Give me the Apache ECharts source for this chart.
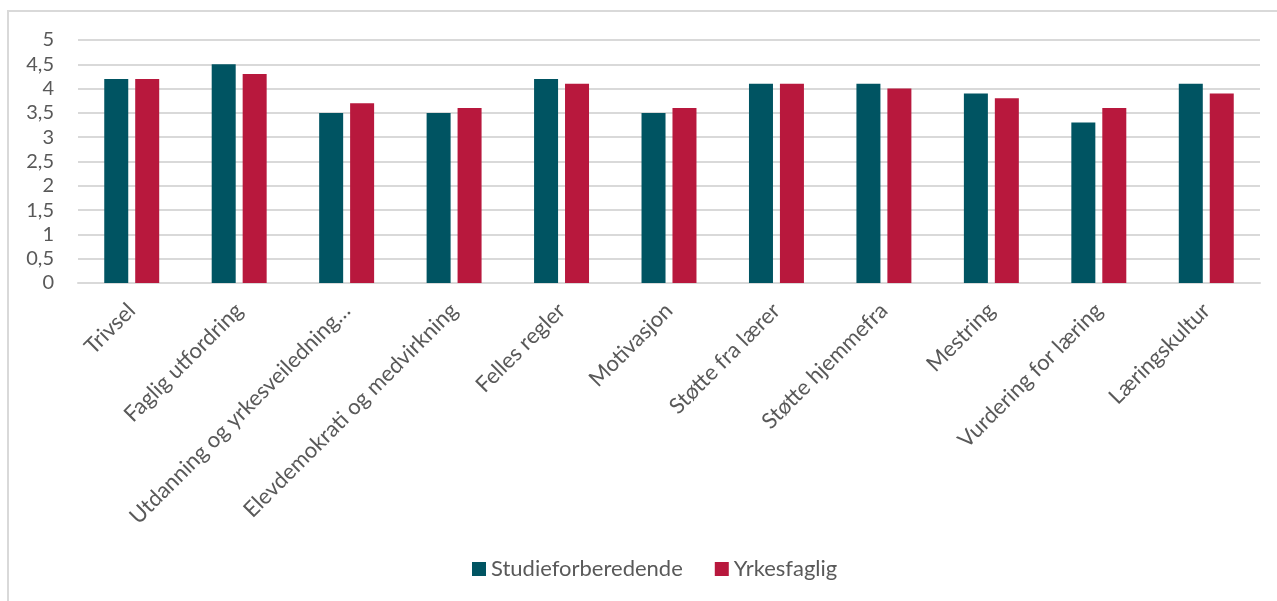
<!DOCTYPE html>
<html><head><meta charset="utf-8">
<script src="https://cdn.jsdelivr.net/npm/echarts@6/dist/echarts.min.js"></script>
<style>html,body{margin:0;padding:0;background:#fff}#frame{position:absolute;left:7px;top:10px;width:1290px;height:600px;border:2px solid #d9d9d9;box-sizing:border-box}#c{width:1277px;height:601px;position:absolute;left:0;top:0}</style>
</head><body>
<div id="frame"></div>
<div id="c"></div>
<script>
const categories = ["Trivsel","Faglig utfordring","Utdanning og yrkesveiledning…","Elevdemokrati og medvirkning","Felles regler","Motivasjon","Støtte fra lærer","Støtte hjemmefra","Mestring","Vurdering for læring","Læringskultur"];
const studieforberedende = [4.2,4.5,3.5,3.5,4.2,3.5,4.1,4.1,3.9,3.3,4.1];
const yrkesfaglig = [4.2,4.3,3.7,3.6,4.1,3.6,4.1,4.0,3.8,3.6,3.9];
const seriesNames = ["Studieforberedende","Yrkesfaglig"];
const yTicks = ["0","0,5","1","1,5","2","2,5","3","3,5","4","4,5","5"];

const font = "Lato, sans-serif";
const chart = echarts.init(document.getElementById('c'));
chart.setOption({
  animation:false,
  grid:{left:78,right:17,top:40,bottom:318,containLabel:false},
  legend:{top:553,left:467,itemWidth:14,itemHeight:14,itemGap:32,icon:'rect',
    textStyle:{color:'#595959',fontSize:22,fontFamily:font},data:seriesNames},
  xAxis:{type:'category',data:categories,
    axisLine:{lineStyle:{color:'#d9d9d9',width:2}},axisTick:{show:false},
    axisLabel:{rotate:45,interval:0,color:'#595959',fontSize:22,fontFamily:font,margin:24}},
  yAxis:{type:'value',min:0,max:5,interval:0.5,
    axisLine:{show:false},axisTick:{show:false},
    splitLine:{lineStyle:{color:'#d9d9d9',width:2}},
    axisLabel:{color:'#595959',fontSize:20,fontFamily:font,margin:24,
      formatter:(v)=>yTicks[Math.round(v*2)]}},
  series:[
    {name:seriesNames[0],type:'bar',data:studieforberedende,barWidth:24,barGap:'29%',itemStyle:{color:'#005462'}},
    {name:seriesNames[1],type:'bar',data:yrkesfaglig,barWidth:24,itemStyle:{color:'#B8183D'}}
  ]
});
</script>
</body></html>
